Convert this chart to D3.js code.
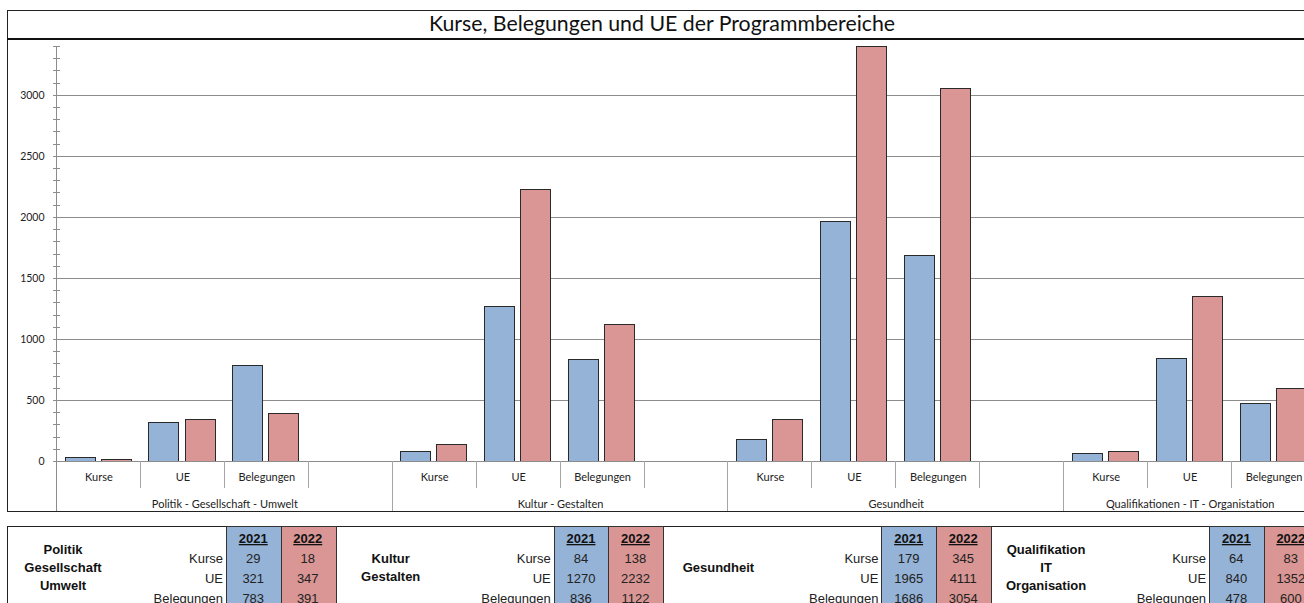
<!DOCTYPE html>
<html>
<head>
<meta charset="utf-8">
<script src="https://cdn.jsdelivr.net/npm/d3@7"></script>
<style>
  html, body { margin: 0; padding: 0; background: #fff; overflow: hidden; }
  svg { display: block; }
</style>
</head>
<body>
<svg id="chart" width="1304" height="603"></svg>
<script>
// Programmbereiche (Achsenbeschriftung) und Namen in der Tabelle
const groups = ['Politik - Gesellschaft - Umwelt', 'Kultur - Gestalten', 'Gesundheit', 'Qualifikationen - IT - Organistation']
const tableNames = [['Politik', 'Gesellschaft', 'Umwelt'], ['Kultur', 'Gestalten'], ['Gesundheit'], ['Qualifikation', 'IT', 'Organisation']]
const measures = ['Kurse', 'UE', 'Belegungen']
const years = ['2021', '2022']

// Werte je Programmbereich: [Kurse, UE, Belegungen]
const values2021 = [[29, 321, 783], [84, 1270, 836], [179, 1965, 1686], [64, 840, 478]]
const values2022 = [[18, 347, 391], [138, 2232, 1122], [345, 4111, 3054], [83, 1352, 600]]

const yTicks = [0, 500, 1000, 1500, 2000, 2500, 3000]
const yMaxShown = 3400

const blue = '#95b3d7'
const red = '#d99694'
const svg = d3.select('#chart')

// Rahmen + Titel
const boxLeft = 7, boxRight = 1317
svg.append('rect')
  .attr('x', boxLeft + 0.5).attr('y', 10.5)
  .attr('width', boxRight - boxLeft).attr('height', 501)
  .attr('fill', '#fff').attr('stroke', '#222').attr('stroke-width', 1)
svg.append('line')
  .attr('x1', boxLeft).attr('x2', boxRight)
  .attr('y1', 39).attr('y2', 39)
  .attr('stroke', '#111').attr('stroke-width', 2.2)
svg.append('text')
  .attr('x', (boxLeft + boxRight) / 2).attr('y', 31)
  .attr('text-anchor', 'middle')
  .style('font-family', 'Lato, sans-serif').style('font-size', '21.3px').attr('fill', '#111')
  .text('Kurse, Belegungen und UE der Programmbereiche')

// Slots: pro Bereich Kurse, UE, Belegungen + Leerplatz (nicht nach dem letzten)
const slots = []
groups.forEach((g, gi) => {
  measures.forEach((m, mi) => slots.push({ key: gi + '-' + m, group: gi, m: mi, label: m }))
  if (gi < groups.length - 1) slots.push({ key: gi + '-empty', group: gi, m: -1, label: '' })
})

const plotLeft = 57, plotRight = 1316, y0 = 461
const x0 = d3.scaleBand().domain(slots.map(s => s.key)).range([plotLeft, plotRight]).padding(0)
const x1 = d3.scaleBand().domain(years).range([0, x0.bandwidth()]).paddingInner(0.17).paddingOuter(0.25).align(0.42)
const y = d3.scaleLinear().domain([0, yMaxShown]).range([y0, 46])

// Gitterlinien
svg.append('g').selectAll('line')
  .data(yTicks.filter(t => t > 0))
  .enter().append('line')
  .attr('x1', plotLeft).attr('x2', plotRight + 20)
  .attr('y1', d => Math.round(y(d)) + 0.5).attr('y2', d => Math.round(y(d)) + 0.5)
  .attr('stroke', '#8c8c8c').attr('stroke-width', 1)

// Balken
const barData = []
slots.filter(s => s.m >= 0).forEach(s => {
  barData.push({ slot: s.key, year: '2021', v: values2021[s.group][s.m], c: blue })
  barData.push({ slot: s.key, year: '2022', v: values2022[s.group][s.m], c: red })
})
svg.append('g').selectAll('rect')
  .data(barData)
  .enter().append('rect')
  .attr('x', d => Math.round(x0(d.slot) + x1(d.year)) + 0.5)
  .attr('y', d => Math.round(y(Math.min(d.v, yMaxShown))) + 0.5)
  .attr('width', Math.round(x1.bandwidth()))
  .attr('height', d => Math.round(y0 - y(Math.min(d.v, yMaxShown))))
  .attr('fill', d => d.c)
  .attr('stroke', '#2a2a2a').attr('stroke-width', 1)

// Y-Achse mit Haupt- und Nebenstrichen
const yAxis = d3.axisLeft(y).tickValues(yTicks).tickFormat(d3.format('d')).tickSize(0).tickPadding(12)
const yg = svg.append('g').attr('transform', `translate(${plotLeft - 0.5},0)`).call(yAxis)
yg.select('.domain').remove()
yg.selectAll('text')
  .style('font-family', 'Lato, sans-serif').style('font-size', '10.5px').attr('fill', '#222')
svg.append('g').selectAll('line')
  .data(d3.range(0, yMaxShown + 1, 100))
  .enter().append('line')
  .attr('x1', plotLeft - 4).attr('x2', plotLeft + 3)
  .attr('y1', d => Math.round(y(d)) + 0.5).attr('y2', d => Math.round(y(d)) + 0.5)
  .attr('stroke', '#8c8c8c')
svg.append('line')
  .attr('x1', plotLeft - 0.5).attr('x2', plotLeft - 0.5)
  .attr('y1', 46).attr('y2', 511)
  .attr('stroke', '#8c8c8c')

// X-Achse
svg.append('line')
  .attr('x1', plotLeft).attr('x2', plotRight + 20)
  .attr('y1', y0 + 0.5).attr('y2', y0 + 0.5)
  .attr('stroke', '#8c8c8c')

// Trennlinien der Kategorien
svg.append('g').selectAll('line')
  .data(slots.slice(1))
  .enter().append('line')
  .attr('x1', d => Math.round(x0(d.key)) - 0.5).attr('x2', d => Math.round(x0(d.key)) - 0.5)
  .attr('y1', y0)
  .attr('y2', d => d.m === 0 ? 511 : 488)
  .attr('stroke', '#a6a6a6')

svg.append('g').selectAll('text')
  .data(slots.filter(s => s.label))
  .enter().append('text')
  .attr('x', d => x0(d.key) + x0.bandwidth() / 2)
  .attr('y', 481)
  .attr('text-anchor', 'middle')
  .style('font-family', 'Lato, sans-serif').style('font-size', '11px').attr('fill', '#222')
  .text(d => d.label)

svg.append('g').selectAll('text')
  .data(groups)
  .enter().append('text')
  .attr('x', (d, i) => {
    const gs = slots.filter(s => s.group === i)
    const a = x0(gs[0].key), b = x0(gs[gs.length - 1].key) + x0.bandwidth()
    return (a + b) / 2
  })
  .attr('y', 508)
  .attr('text-anchor', 'middle')
  .style('font-family', 'Lato, sans-serif').style('font-size', '11px').attr('fill', '#222')
  .text(d => d)

// Tabelle unten
const tTop = 526, blockStep = 327.7, colW = 54.5
svg.append('rect')
  .attr('x', boxLeft + 0.5).attr('y', tTop + 0.5)
  .attr('width', 1400).attr('height', 200)
  .attr('fill', '#fff').attr('stroke', '#222')

const rowY = [563, 583, 603]
const tFont = 'Liberation Sans, Arial, sans-serif'
groups.forEach((g, gi) => {
  const bx = 226 + gi * blockStep
  const blk = svg.append('g')
  years.forEach((yr, yi) => {
    const cx = bx + yi * colW
    blk.append('rect')
      .attr('x', Math.round(cx) + 0.5).attr('y', tTop + 0.5)
      .attr('width', Math.round(colW)).attr('height', 100)
      .attr('fill', yi === 0 ? blue : red).attr('stroke', '#333')
    blk.append('text')
      .attr('x', cx + colW / 2).attr('y', 543)
      .attr('text-anchor', 'middle')
      .style('font-family', tFont).style('font-size', '13px').style('font-weight', 'bold')
      .style('text-decoration', 'underline').attr('fill', '#111')
      .text(yr)
    const vals = yi === 0 ? values2021[gi] : values2022[gi]
    vals.forEach((v, ri) => {
      blk.append('text')
        .attr('x', cx + colW / 2).attr('y', rowY[ri])
        .attr('text-anchor', 'middle')
        .style('font-family', tFont).style('font-size', '13px').attr('fill', '#222')
        .text(v)
    })
  })
  measures.forEach((m, ri) => {
    blk.append('text')
      .attr('x', bx - 3).attr('y', rowY[ri])
      .attr('text-anchor', 'end')
      .style('font-family', tFont).style('font-size', '13px').attr('fill', '#222')
      .text(m)
  })
  const names = tableNames[gi]
  const nameCx = 63 + gi * blockStep
  const startY = 567 - (names.length - 1) * 9
  names.forEach((n, ni) => {
    blk.append('text')
      .attr('x', nameCx).attr('y', startY + ni * 18 + 5)
      .attr('text-anchor', 'middle')
      .style('font-family', tFont).style('font-size', '13px').style('font-weight', 'bold').attr('fill', '#111')
      .text(n)
  })
})
</script>
</body>
</html>
